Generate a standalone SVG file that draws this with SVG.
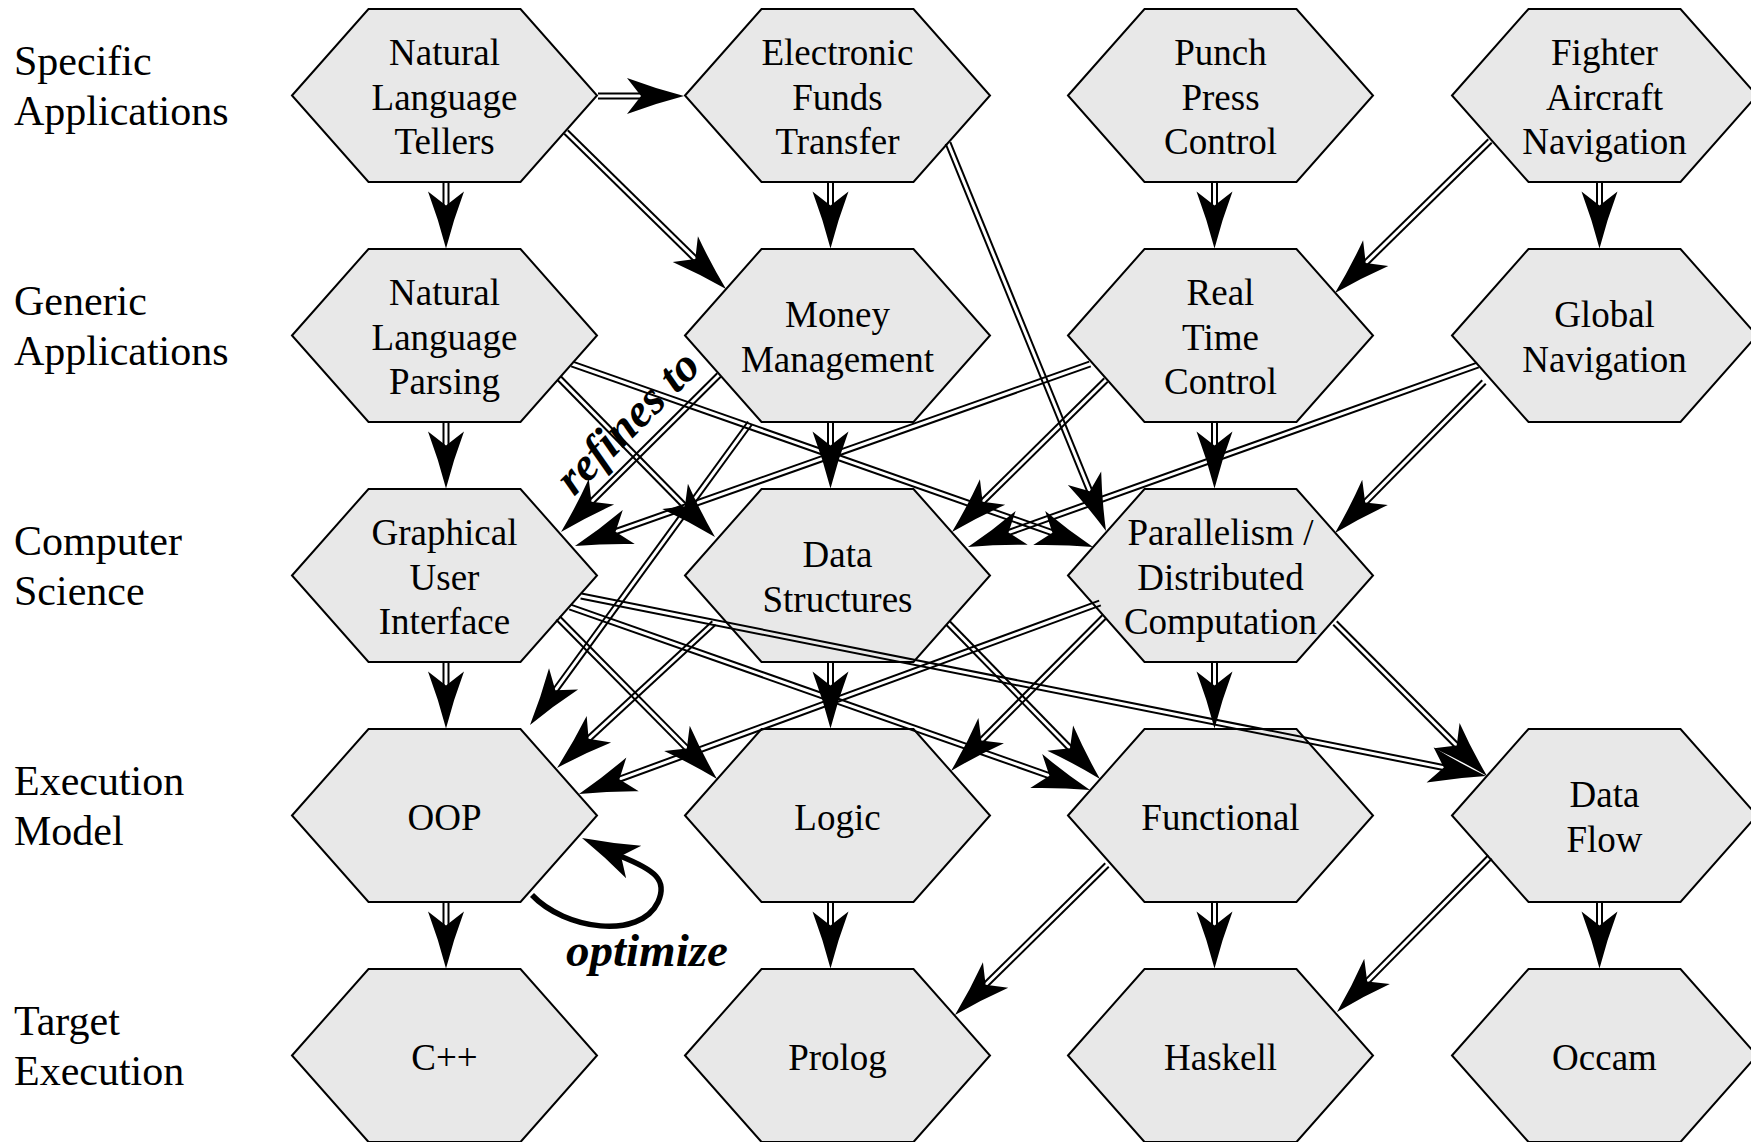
<svg xmlns="http://www.w3.org/2000/svg" xmlns:xlink="http://www.w3.org/1999/xlink" width="1751" height="1142" viewBox="0 0 1751 1142">
<style>
.hex{fill:#e8e8e8;stroke:#000;stroke-width:2;stroke-linejoin:miter}
.t{font-family:"Liberation Serif","Times New Roman",serif;font-size:37px;text-anchor:middle;fill:#000}
.lbl{font-family:"Liberation Serif","Times New Roman",serif;font-size:42px;fill:#000}
.bi{font-family:"Liberation Serif","Times New Roman",serif;font-size:47px;font-weight:bold;font-style:italic;fill:#000}
#connectors line{stroke:#000;stroke-width:2;fill:none}
#connectors use{fill:#000}
.loop{fill:none;stroke:#000;stroke-width:5.5;stroke-linecap:butt}
</style>
<defs>
<polygon id="hx" points="-152.5,0 -76,-86.5 76,-86.5 152.5,0 76,86.5 -76,86.5"/>
<path id="ah" d="M0,0 Q-29,-7.5 -57,-18 L-43,0 L-57,18 Q-29,7.5 0,0 Z"/>
</defs>
<rect width="1751" height="1142" fill="#fff"/>

<g id="row-labels">
<text class="lbl" x="14" y="75">Specific</text>
<text class="lbl" x="14" y="125">Applications</text>
<text class="lbl" x="14" y="315">Generic</text>
<text class="lbl" x="14" y="365">Applications</text>
<text class="lbl" x="14" y="555">Computer</text>
<text class="lbl" x="14" y="605">Science</text>
<text class="lbl" x="14" y="795">Execution</text>
<text class="lbl" x="14" y="845">Model</text>
<text class="lbl" x="14" y="1035">Target</text>
<text class="lbl" x="14" y="1085">Execution</text>
</g>

<g id="n-nlt"><use xlink:href="#hx" href="#hx" class="hex" transform="translate(444.5,95.5)"/>
<text class="t" x="444.5" y="65">Natural</text><text class="t" x="444.5" y="109.5">Language</text><text class="t" x="444.5" y="154">Tellers</text></g>
<g id="n-eft"><use xlink:href="#hx" href="#hx" class="hex" transform="translate(837.5,95.5)"/>
<text class="t" x="837.5" y="65">Electronic</text><text class="t" x="837.5" y="109.5">Funds</text><text class="t" x="837.5" y="154">Transfer</text></g>
<g id="n-ppc"><use xlink:href="#hx" href="#hx" class="hex" transform="translate(1220.5,95.5)"/>
<text class="t" x="1220.5" y="65">Punch</text><text class="t" x="1220.5" y="109.5">Press</text><text class="t" x="1220.5" y="154">Control</text></g>
<g id="n-fan"><use xlink:href="#hx" href="#hx" class="hex" transform="translate(1604.5,95.5)"/>
<text class="t" x="1604.5" y="65">Fighter</text><text class="t" x="1604.5" y="109.5">Aircraft</text><text class="t" x="1604.5" y="154">Navigation</text></g>

<g id="n-nlp"><use xlink:href="#hx" href="#hx" class="hex" transform="translate(444.5,335.5)"/>
<text class="t" x="444.5" y="305">Natural</text><text class="t" x="444.5" y="349.5">Language</text><text class="t" x="444.5" y="394">Parsing</text></g>
<g id="n-mm"><use xlink:href="#hx" href="#hx" class="hex" transform="translate(837.5,335.5)"/>
<text class="t" x="837.5" y="327">Money</text><text class="t" x="837.5" y="371.5">Management</text></g>
<g id="n-rtc"><use xlink:href="#hx" href="#hx" class="hex" transform="translate(1220.5,335.5)"/>
<text class="t" x="1220.5" y="305">Real</text><text class="t" x="1220.5" y="349.5">Time</text><text class="t" x="1220.5" y="394">Control</text></g>
<g id="n-gn"><use xlink:href="#hx" href="#hx" class="hex" transform="translate(1604.5,335.5)"/>
<text class="t" x="1604.5" y="327">Global</text><text class="t" x="1604.5" y="371.5">Navigation</text></g>

<g id="n-gui"><use xlink:href="#hx" href="#hx" class="hex" transform="translate(444.5,575.5)"/>
<text class="t" x="444.5" y="545">Graphical</text><text class="t" x="444.5" y="589.5">User</text><text class="t" x="444.5" y="634">Interface</text></g>
<g id="n-ds"><use xlink:href="#hx" href="#hx" class="hex" transform="translate(837.5,575.5)"/>
<text class="t" x="837.5" y="567">Data</text><text class="t" x="837.5" y="611.5">Structures</text></g>
<g id="n-par"><use xlink:href="#hx" href="#hx" class="hex" transform="translate(1220.5,575.5)"/>
<text class="t" x="1220.5" y="545">Parallelism /</text><text class="t" x="1220.5" y="589.5">Distributed</text><text class="t" x="1220.5" y="634">Computation</text></g>

<g id="n-oop"><use xlink:href="#hx" href="#hx" class="hex" transform="translate(444.5,815.5)"/>
<text class="t" x="444.5" y="829.5">OOP</text></g>
<g id="n-logic"><use xlink:href="#hx" href="#hx" class="hex" transform="translate(837.5,815.5)"/>
<text class="t" x="837.5" y="829.5">Logic</text></g>
<g id="n-func"><use xlink:href="#hx" href="#hx" class="hex" transform="translate(1220.5,815.5)"/>
<text class="t" x="1220.5" y="829.5">Functional</text></g>
<g id="n-df"><use xlink:href="#hx" href="#hx" class="hex" transform="translate(1604.5,815.5)"/>
<text class="t" x="1604.5" y="807">Data</text><text class="t" x="1604.5" y="851.5">Flow</text></g>

<g id="n-cpp"><use xlink:href="#hx" href="#hx" class="hex" transform="translate(444.5,1055.5)"/>
<text class="t" x="444.5" y="1069.5">C++</text></g>
<g id="n-prolog"><use xlink:href="#hx" href="#hx" class="hex" transform="translate(837.5,1055.5)"/>
<text class="t" x="837.5" y="1069.5">Prolog</text></g>
<g id="n-haskell"><use xlink:href="#hx" href="#hx" class="hex" transform="translate(1220.5,1055.5)"/>
<text class="t" x="1220.5" y="1069.5">Haskell</text></g>
<g id="n-occam"><use xlink:href="#hx" href="#hx" class="hex" transform="translate(1604.5,1055.5)"/>
<text class="t" x="1604.5" y="1069.5">Occam</text></g>

<g id="connectors">
<!-- verticals row1->row2 -->
<line x1="443.5" y1="182" x2="443.5" y2="206"/><line x1="448.5" y1="182" x2="448.5" y2="206"/><use xlink:href="#ah" href="#ah" transform="translate(446,248.5) rotate(90)"/>
<line x1="828" y1="182" x2="828" y2="206"/><line x1="833" y1="182" x2="833" y2="206"/><use xlink:href="#ah" href="#ah" transform="translate(830.5,248.5) rotate(90)"/>
<line x1="1212" y1="182" x2="1212" y2="206"/><line x1="1217" y1="182" x2="1217" y2="206"/><use xlink:href="#ah" href="#ah" transform="translate(1214.5,248.5) rotate(90)"/>
<line x1="1597" y1="182" x2="1597" y2="206"/><line x1="1602" y1="182" x2="1602" y2="206"/><use xlink:href="#ah" href="#ah" transform="translate(1599.5,248.5) rotate(90)"/>
<!-- verticals row2->row3 -->
<line x1="443.5" y1="422" x2="443.5" y2="446"/><line x1="448.5" y1="422" x2="448.5" y2="446"/><use xlink:href="#ah" href="#ah" transform="translate(446,488.5) rotate(90)"/>
<line x1="828" y1="422" x2="828" y2="446"/><line x1="833" y1="422" x2="833" y2="446"/><use xlink:href="#ah" href="#ah" transform="translate(830.5,488.5) rotate(90)"/>
<line x1="1212" y1="422" x2="1212" y2="446"/><line x1="1217" y1="422" x2="1217" y2="446"/><use xlink:href="#ah" href="#ah" transform="translate(1214.5,488.5) rotate(90)"/>
<!-- verticals row3->row4 -->
<line x1="443.5" y1="662" x2="443.5" y2="686"/><line x1="448.5" y1="662" x2="448.5" y2="686"/><use xlink:href="#ah" href="#ah" transform="translate(446,728.5) rotate(90)"/>
<line x1="828" y1="662" x2="828" y2="686"/><line x1="833" y1="662" x2="833" y2="686"/><use xlink:href="#ah" href="#ah" transform="translate(830.5,728.5) rotate(90)"/>
<line x1="1212" y1="662" x2="1212" y2="686"/><line x1="1217" y1="662" x2="1217" y2="686"/><use xlink:href="#ah" href="#ah" transform="translate(1214.5,728.5) rotate(90)"/>
<!-- verticals row4->row5 -->
<line x1="443.5" y1="902" x2="443.5" y2="926"/><line x1="448.5" y1="902" x2="448.5" y2="926"/><use xlink:href="#ah" href="#ah" transform="translate(446,968.5) rotate(90)"/>
<line x1="828" y1="902" x2="828" y2="926"/><line x1="833" y1="902" x2="833" y2="926"/><use xlink:href="#ah" href="#ah" transform="translate(830.5,968.5) rotate(90)"/>
<line x1="1212" y1="902" x2="1212" y2="926"/><line x1="1217" y1="902" x2="1217" y2="926"/><use xlink:href="#ah" href="#ah" transform="translate(1214.5,968.5) rotate(90)"/>
<line x1="1597" y1="902" x2="1597" y2="926"/><line x1="1602" y1="902" x2="1602" y2="926"/><use xlink:href="#ah" href="#ah" transform="translate(1599.5,968.5) rotate(90)"/>

<!-- NLT -> EFT -->
<line x1="598" y1="93.5" x2="642" y2="93.5"/><line x1="598" y1="98.5" x2="642" y2="98.5"/><use xlink:href="#ah" href="#ah" transform="translate(684,96)"/>
<!-- NLT -> MM -->
<line x1="564.25" y1="133.78" x2="693.56" y2="260.67"/><line x1="567.75" y1="130.22" x2="697.06" y2="257.11"/><use xlink:href="#ah" href="#ah" transform="translate(726,289) rotate(44.46)"/>
<!-- EFT -> Parallelism -->
<line x1="945.69" y1="143.94" x2="1087.46" y2="492.12"/><line x1="950.32" y1="142.06" x2="1092.10" y2="490.24"/><use xlink:href="#ah" href="#ah" transform="translate(1106,531) rotate(67.84)"/>
<!-- Fighter -> RTC -->
<line x1="1488.25" y1="139.22" x2="1363.95" y2="261.11"/><line x1="1491.75" y1="142.79" x2="1367.45" y2="264.68"/><use xlink:href="#ah" href="#ah" transform="translate(1335,293) rotate(135.56)"/>
<!-- NLP -> DS -->
<line x1="557.22" y1="379.75" x2="683.11" y2="508.06"/><line x1="560.79" y1="376.25" x2="686.68" y2="504.56"/><use xlink:href="#ah" href="#ah" transform="translate(715,537) rotate(45.54)"/>
<!-- NLP -> Parallelism -->
<line x1="571.17" y1="366.36" x2="1051.60" y2="535.11"/><line x1="572.83" y1="361.64" x2="1053.26" y2="530.39"/><use xlink:href="#ah" href="#ah" transform="translate(1093,547) rotate(19.36)"/>
<!-- MM -> GUI (refines to) -->
<line x1="717.24" y1="373.23" x2="589.74" y2="499.92"/><line x1="720.76" y1="376.77" x2="593.26" y2="503.46"/><use xlink:href="#ah" href="#ah" transform="translate(561,532) rotate(135.18)"/>
<!-- MM -> OOP -->
<line x1="747.98" y1="421.53" x2="553.30" y2="688.77"/><line x1="752.02" y1="424.47" x2="557.34" y2="691.71"/><use xlink:href="#ah" href="#ah" transform="translate(530,725) rotate(126.08)"/>
<!-- RTC -> GUI -->
<line x1="1089.17" y1="361.64" x2="614.71" y2="529.31"/><line x1="1090.83" y1="366.36" x2="616.37" y2="534.03"/><use xlink:href="#ah" href="#ah" transform="translate(575,546) rotate(160.54)"/>
<!-- RTC -> DS -->
<line x1="1104.24" y1="378.22" x2="980.84" y2="500.01"/><line x1="1107.76" y1="381.78" x2="984.36" y2="503.57"/><use xlink:href="#ah" href="#ah" transform="translate(952,532) rotate(135.37)"/>
<!-- Global -> DS -->
<line x1="1477.16" y1="362.65" x2="1007.66" y2="530.20"/><line x1="1478.84" y1="367.36" x2="1009.34" y2="534.91"/><use xlink:href="#ah" href="#ah" transform="translate(968,547) rotate(160.36)"/>
<!-- Global -> Parallelism -->
<line x1="1482.22" y1="380.24" x2="1363.42" y2="500.63"/><line x1="1485.78" y1="383.76" x2="1366.98" y2="504.15"/><use xlink:href="#ah" href="#ah" transform="translate(1335,533) rotate(134.62)"/>
<!-- GUI -> Logic -->
<line x1="556.22" y1="619.76" x2="685.00" y2="750.17"/><line x1="559.78" y1="616.24" x2="688.56" y2="746.65"/><use xlink:href="#ah" href="#ah" transform="translate(717,779) rotate(45.36)"/>
<!-- GUI -> Functional -->
<line x1="569.17" y1="609.36" x2="1048.61" y2="778.08"/><line x1="570.83" y1="604.64" x2="1050.27" y2="773.36"/><use xlink:href="#ah" href="#ah" transform="translate(1090,790) rotate(19.39)"/>
<!-- GUI -> Data Flow -->
<line x1="580.51" y1="598.45" x2="1443.34" y2="770.06"/><line x1="581.49" y1="593.55" x2="1444.32" y2="765.16"/><use xlink:href="#ah" href="#ah" transform="translate(1486,776) rotate(11.25)"/>
<!-- DS -> OOP -->
<line x1="712.30" y1="621.16" x2="586.89" y2="736.98"/><line x1="715.70" y1="624.84" x2="590.29" y2="740.66"/><use xlink:href="#ah" href="#ah" transform="translate(557,768) rotate(137.28)"/>
<!-- DS -> Functional -->
<line x1="946.21" y1="624.75" x2="1068.20" y2="749.95"/><line x1="949.79" y1="621.26" x2="1071.78" y2="746.46"/><use xlink:href="#ah" href="#ah" transform="translate(1100,779) rotate(45.74)"/>
<!-- Parallelism -> OOP -->
<line x1="1099.14" y1="600.65" x2="618.51" y2="776.85"/><line x1="1100.86" y1="605.35" x2="620.23" y2="781.55"/><use xlink:href="#ah" href="#ah" transform="translate(579,794) rotate(159.87)"/>
<!-- Parallelism -> Logic -->
<line x1="1102.23" y1="615.24" x2="979.54" y2="738.74"/><line x1="1105.77" y1="618.76" x2="983.08" y2="742.26"/><use xlink:href="#ah" href="#ah" transform="translate(951,771) rotate(134.81)"/>
<!-- Parallelism -> Data Flow -->
<line x1="1333.23" y1="624.76" x2="1454.92" y2="747.26"/><line x1="1336.77" y1="621.24" x2="1458.46" y2="743.74"/><use xlink:href="#ah" href="#ah" transform="translate(1487,776) rotate(45.19)"/>
<!-- Functional -> Prolog -->
<line x1="1105.24" y1="863.22" x2="983.85" y2="983.02"/><line x1="1108.76" y1="866.78" x2="987.37" y2="986.58"/><use xlink:href="#ah" href="#ah" transform="translate(955,1015) rotate(135.38)"/>
<!-- Data Flow -> Haskell -->
<line x1="1488.22" y1="855.24" x2="1365.43" y2="979.64"/><line x1="1491.78" y1="858.76" x2="1368.99" y2="983.16"/><use xlink:href="#ah" href="#ah" transform="translate(1337,1012) rotate(134.63)"/>
<!-- OOP self loop (optimize) -->
<path class="loop" d="M532,895 C565,930 640,940 658,902 C668,880 655,870 620,856"/>
<use xlink:href="#ah" href="#ah" transform="translate(582,838) rotate(204.9)"/>
</g>

<g id="edge-labels">
<text class="bi" transform="translate(574,497) rotate(-45)">refines to</text>
<text class="bi" x="566" y="966">optimize</text>
</g>
</svg>
